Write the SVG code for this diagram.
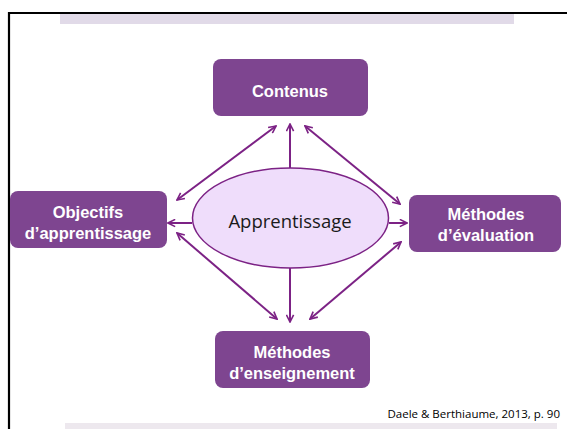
<svg xmlns="http://www.w3.org/2000/svg" width="567" height="429" viewBox="0 0 567 429">
<defs>
<style>
.box{fill:#7E4590;}
.lbl{font-family:"Liberation Sans",Arial,sans-serif;font-weight:bold;font-size:16.5px;fill:#ffffff;text-anchor:middle;}
.con{stroke:#7C2285;stroke-width:2;fill:none;marker-end:url(#ah);marker-start:url(#ah);}
.one{stroke:#7C2285;stroke-width:2;fill:none;marker-end:url(#ah);}
</style>
<marker id="ah" viewBox="0 0 10 10" refX="9" refY="5" markerWidth="4.5" markerHeight="4.5" orient="auto-start-reverse" markerUnits="strokeWidth">
<path d="M1,1 L9,5 L1,9" fill="none" stroke="#7C2285" stroke-width="1.8" stroke-linejoin="miter"/>
</marker>
</defs>
<rect width="567" height="429" fill="#ffffff"/>
<rect x="60" y="14" width="454" height="10" fill="#E1DAE8"/>
<rect x="65" y="423" width="492" height="6" fill="#EDE8EE"/>
<path d="M9,429 V13 H567" fill="none" stroke="#000000" stroke-width="2.2"/>
<g id="connectors">
<line class="one" x1="290" y1="168" x2="290" y2="124"/>
<line class="con" x1="177" y1="200" x2="276" y2="126"/>
<line class="con" x1="305" y1="126" x2="400" y2="204"/>
<line class="one" x1="192" y1="223" x2="168" y2="223"/>
<line class="one" x1="389" y1="223" x2="407" y2="223"/>
<line class="con" x1="177" y1="233" x2="277" y2="319"/>
<line class="one" x1="290" y1="268" x2="290" y2="322"/>
<line class="con" x1="310" y1="319" x2="401" y2="242"/>
</g>
<g id="contenus">
<rect class="box" x="213" y="59" width="155" height="57" rx="8"/>
<text class="lbl" x="290" y="97" font-size="17">Contenus</text>
</g>
<g id="objectifs">
<rect class="box" x="10" y="191" width="157" height="57" rx="8"/>
<text class="lbl" x="88" y="218">Objectifs</text>
<text class="lbl" x="88" y="239">d’apprentissage</text>
</g>
<g id="evaluation">
<rect class="box" x="409" y="195" width="152" height="57" rx="8"/>
<text class="lbl" x="486" y="220">Méthodes</text>
<text class="lbl" x="486" y="241">d’évaluation</text>
</g>
<g id="enseignement">
<rect class="box" x="215" y="331" width="155" height="57" rx="8"/>
<text class="lbl" x="292" y="358">Méthodes</text>
<text class="lbl" x="292" y="379">d’enseignement</text>
</g>
<g id="apprentissage">
<ellipse cx="290.5" cy="218" rx="98" ry="50" fill="#EFDDFB" stroke="#7C2285" stroke-width="1.5"/>
<text x="290" y="228" font-family="'Open Sans','Liberation Sans',sans-serif" font-size="18.5" fill="#1a1a1a" text-anchor="middle">Apprentissage</text>
</g>
<text x="560" y="418" font-family="'Open Sans','Liberation Sans',sans-serif" font-size="11.5" fill="#000000" text-anchor="end">Daele &amp; Berthiaume, 2013, p. 90</text>
</svg>
